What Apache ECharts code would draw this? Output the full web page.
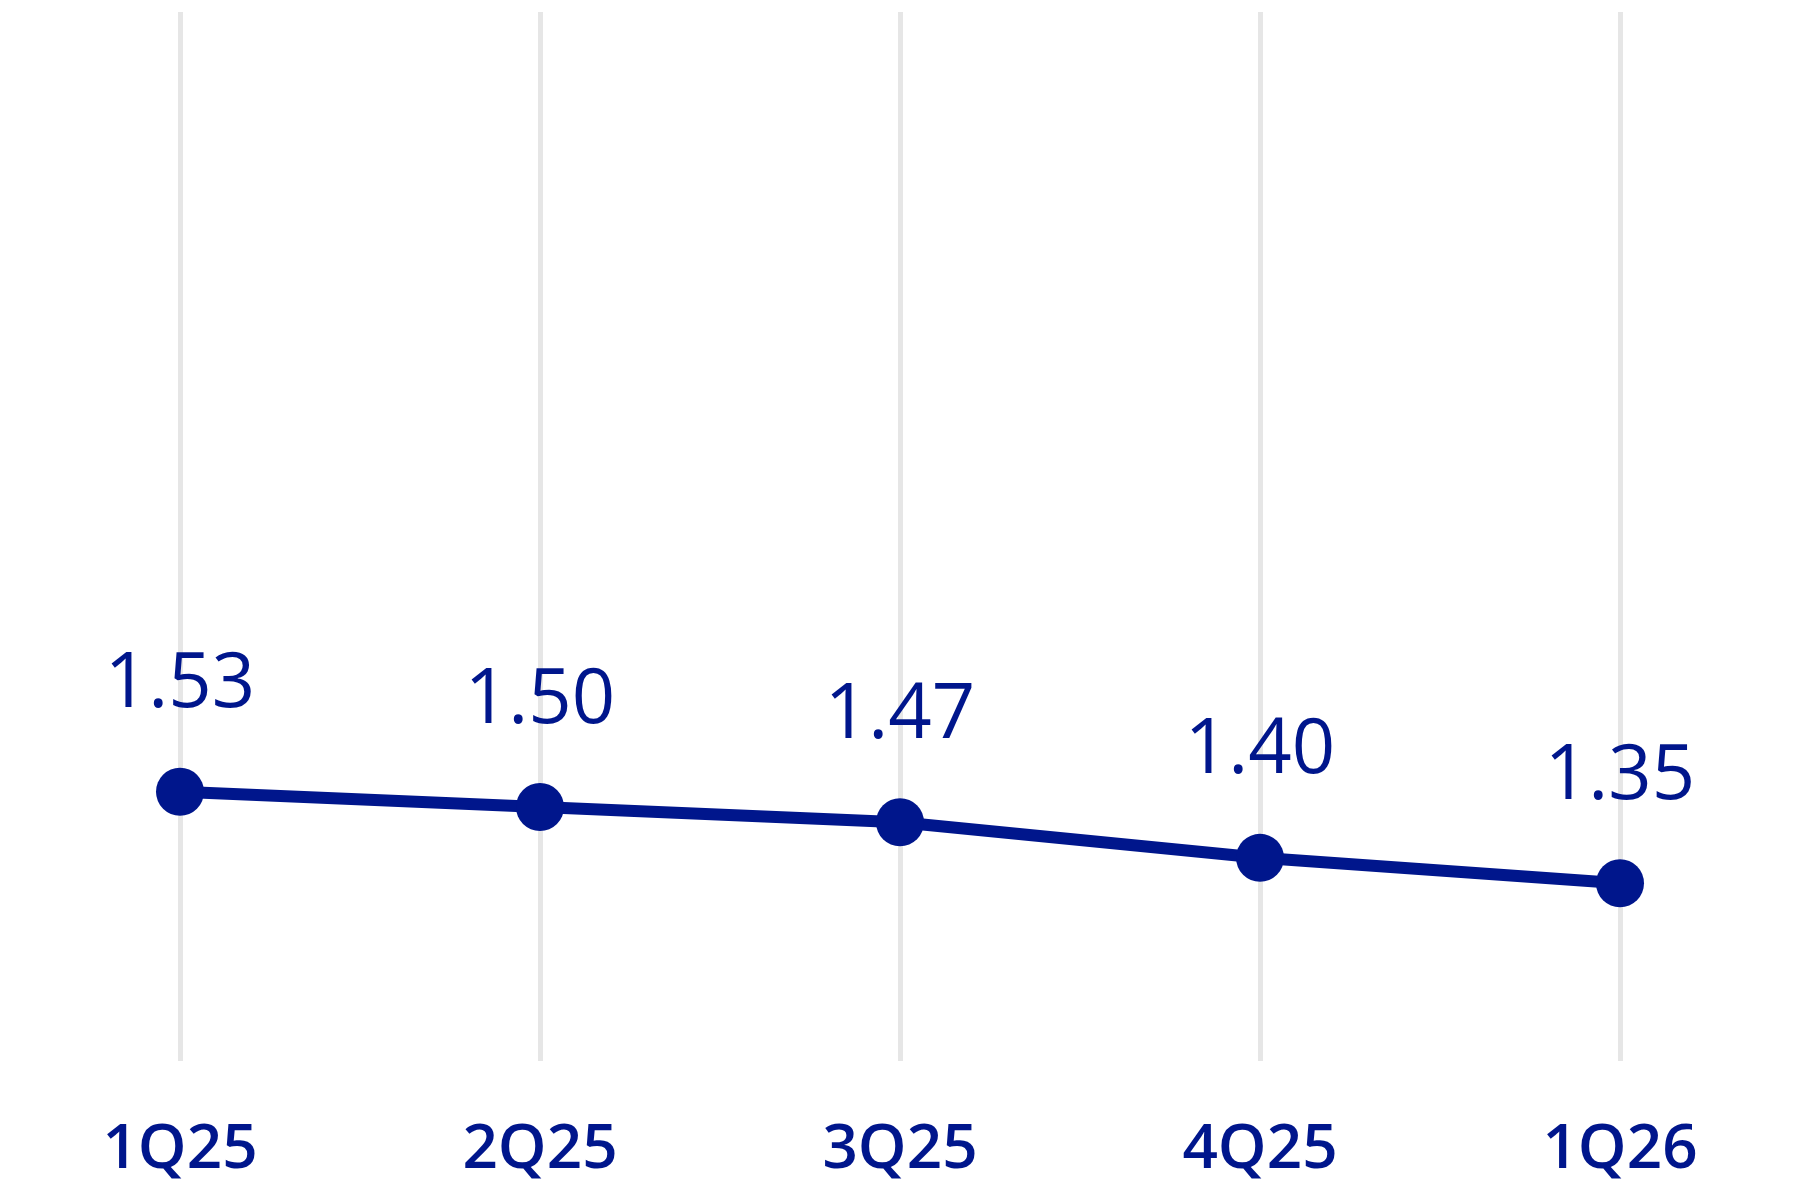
<!DOCTYPE html>
<html>
<head>
<meta charset="utf-8">
<style>
html,body{margin:0;padding:0;background:#fff;}
#chart{width:1800px;height:1200px;}
</style>
<script src="https://cdn.jsdelivr.net/npm/echarts@6/dist/echarts.min.js"></script>
</head>
<body>
<div id="chart"></div>
<script>
const categories = ['1Q25', '2Q25', '3Q25', '4Q25', '1Q26'];
const values = [1.53, 1.50, 1.47, 1.40, 1.35];

const navy = '#00168C';
const chart = echarts.init(document.getElementById('chart'));
chart.setOption({
  animation: false,
  backgroundColor: '#ffffff',
  grid: { left: 180, right: 180, top: 12, bottom: 139 },
  xAxis: {
    type: 'category',
    data: categories,
    boundaryGap: false,
    axisLine: { show: false },
    axisTick: { show: false },
    splitLine: { show: true, lineStyle: { color: '#e6e6e6', width: 5 } },
    axisLabel: {
      color: navy,
      fontFamily: '"Open Sans", Lato, sans-serif',
      fontWeight: 600,
      fontSize: 62,
      margin: 58
    }
  },
  yAxis: {
    type: 'value',
    min: 1,
    max: 3.065,
    show: false,
    splitLine: { show: false }
  },
  series: [{
    type: 'line',
    data: values,
    symbol: 'circle',
    symbolSize: 48,
    lineStyle: { color: navy, width: 12 },
    itemStyle: { color: navy },
    label: {
      show: true,
      position: 'top',
      distance: 44,
      color: navy,
      fontFamily: '"Open Sans", Lato, sans-serif',
      fontSize: 76,
      formatter: p => p.value.toFixed(2)
    }
  }]
});
</script>
</body>
</html>
